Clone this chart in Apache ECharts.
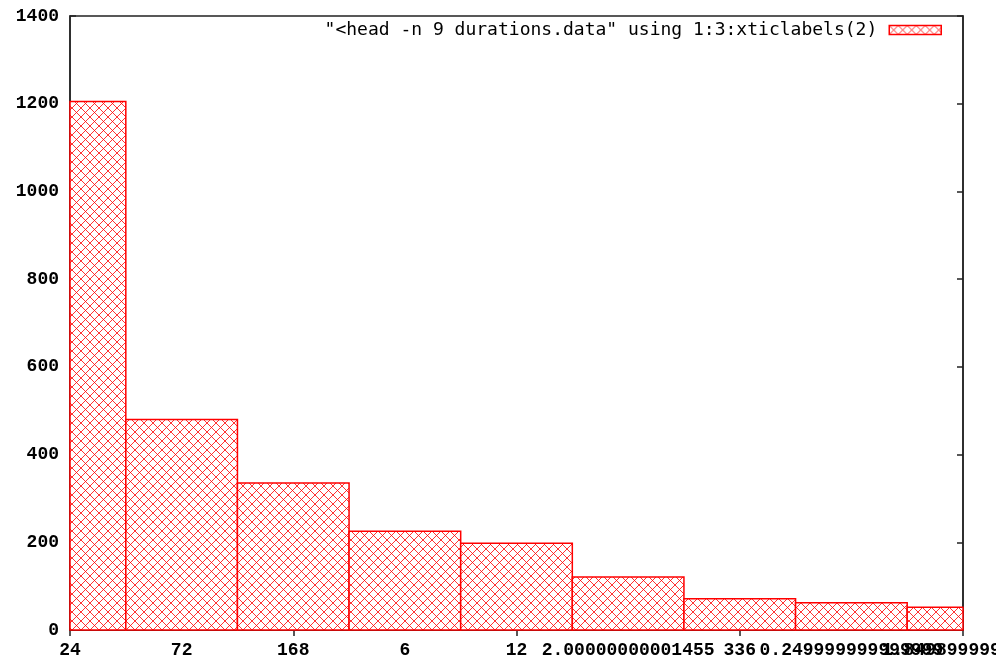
<!DOCTYPE html>
<html>
<head>
<meta charset="utf-8">
<title>durations</title>
<script src="https://cdn.jsdelivr.net/npm/echarts@6/dist/echarts.min.js"></script>
<style>
html, body { margin: 0; padding: 0; background: #fff; }
#chart { width: 996px; height: 658px; }
</style>
</head>
<body>
<div id="chart"></div>
<script>
// x tick labels (column 2 of the data file)
const xLabels = ['24', '72', '168', '6', '12', '2.00000000001455', '336', '0.249999999999999', '1.8498999999999'];
// counts (column 3)
const counts = [1205, 480, 335, 225, 198, 121, 71, 62, 52];
const seriesName = '"<head -n 9 durations.data" using 1:3:xticlabels(2)';
const yMax = 1400;
const yStep = 200;

// gnuplot style cross hatch
function makeHatch() {
    const c = document.createElement('canvas');
    c.width = 9;
    c.height = 9;
    const ctx = c.getContext('2d');
    ctx.fillStyle = '#fff';
    ctx.fillRect(0, 0, 9, 9);
    ctx.strokeStyle = 'rgba(255,0,0,0.8)';
    ctx.lineWidth = 1;
    ctx.beginPath();
    ctx.moveTo(0, 0); ctx.lineTo(9, 9);
    ctx.moveTo(9, 0); ctx.lineTo(0, 9);
    ctx.stroke();
    return c;
}
const hatch = { image: makeHatch(), repeat: 'repeat' };

const tickFont = {
    fontFamily: '"Liberation Mono", monospace',
    fontWeight: 'bold',
    fontSize: 18,
    color: '#000'
};
const frameLine = { show: true, lineStyle: { color: '#222', width: 1.5 } };
const inTick = { show: true, inside: true, length: 6, lineStyle: { color: '#222', width: 1.5 } };

// boxes centred on each x index, width = one category step, clipped to the plot
function renderBox(params, api) {
    const idx = api.value(0);
    const top = api.coord([idx, api.value(1)]);
    const base = api.coord([idx, 0]);
    const w = api.size([1, 0])[0];
    const cs = params.coordSys;
    const shape = echarts.graphic.clipRectByRect(
        { x: top[0] - w / 2, y: top[1], width: w, height: base[1] - top[1] },
        { x: cs.x, y: cs.y, width: cs.width, height: cs.height }
    );
    if (!shape) return null;
    return { type: 'rect', shape: shape, style: api.style() };
}

const chart = echarts.init(document.getElementById('chart'));
chart.setOption({
    animation: false,
    backgroundColor: '#fff',
    grid: {
        left: 70, right: 33, top: 16, bottom: 28,
        outerBoundsMode: 'none',
        containLabel: false,
        show: true, borderColor: '#222', borderWidth: 1.5
    },
    legend: {
        right: 54,
        top: 21,
        padding: 0,
        align: 'right',
        icon: 'rect',
        itemWidth: 52,
        itemHeight: 9,
        selectedMode: false,
        itemStyle: { color: hatch, borderColor: '#ff0000', borderWidth: 1.5 },
        textStyle: {
            fontFamily: '"DejaVu Sans Mono", monospace',
            fontSize: 18,
            color: '#000',
            padding: [0, 7, 0, 0]
        },
        data: [seriesName]
    },
    xAxis: [{
        type: 'category',
        data: xLabels,
        boundaryGap: false,
        axisLine: frameLine,
        axisTick: inTick,
        axisLabel: Object.assign({ interval: 0, margin: 11, hideOverlap: false }, tickFont),
        splitLine: { show: false }
    }, {
        type: 'category',
        data: xLabels,
        position: 'top',
        boundaryGap: false,
        axisLine: frameLine,
        axisTick: inTick,
        axisLabel: { show: false },
        splitLine: { show: false }
    }],
    yAxis: [{
        type: 'value',
        min: 0,
        max: yMax,
        interval: yStep,
        axisLine: frameLine,
        axisTick: inTick,
        axisLabel: Object.assign({ margin: 11, formatter: v => String(v) }, tickFont),
        splitLine: { show: false }
    }, {
        type: 'value',
        position: 'right',
        min: 0,
        max: yMax,
        interval: yStep,
        axisLine: frameLine,
        axisTick: inTick,
        axisLabel: { show: false },
        splitLine: { show: false }
    }],
    series: [{
        name: seriesName,
        type: 'custom',
        renderItem: renderBox,
        encode: { x: 0, y: 1 },
        data: counts.map((v, i) => [i, v]),
        z: 1,
        itemStyle: {
            color: hatch,
            borderColor: '#ff0000',
            borderWidth: 1.5
        },
        emphasis: { disabled: true }
    }]
});
</script>
</body>
</html>
